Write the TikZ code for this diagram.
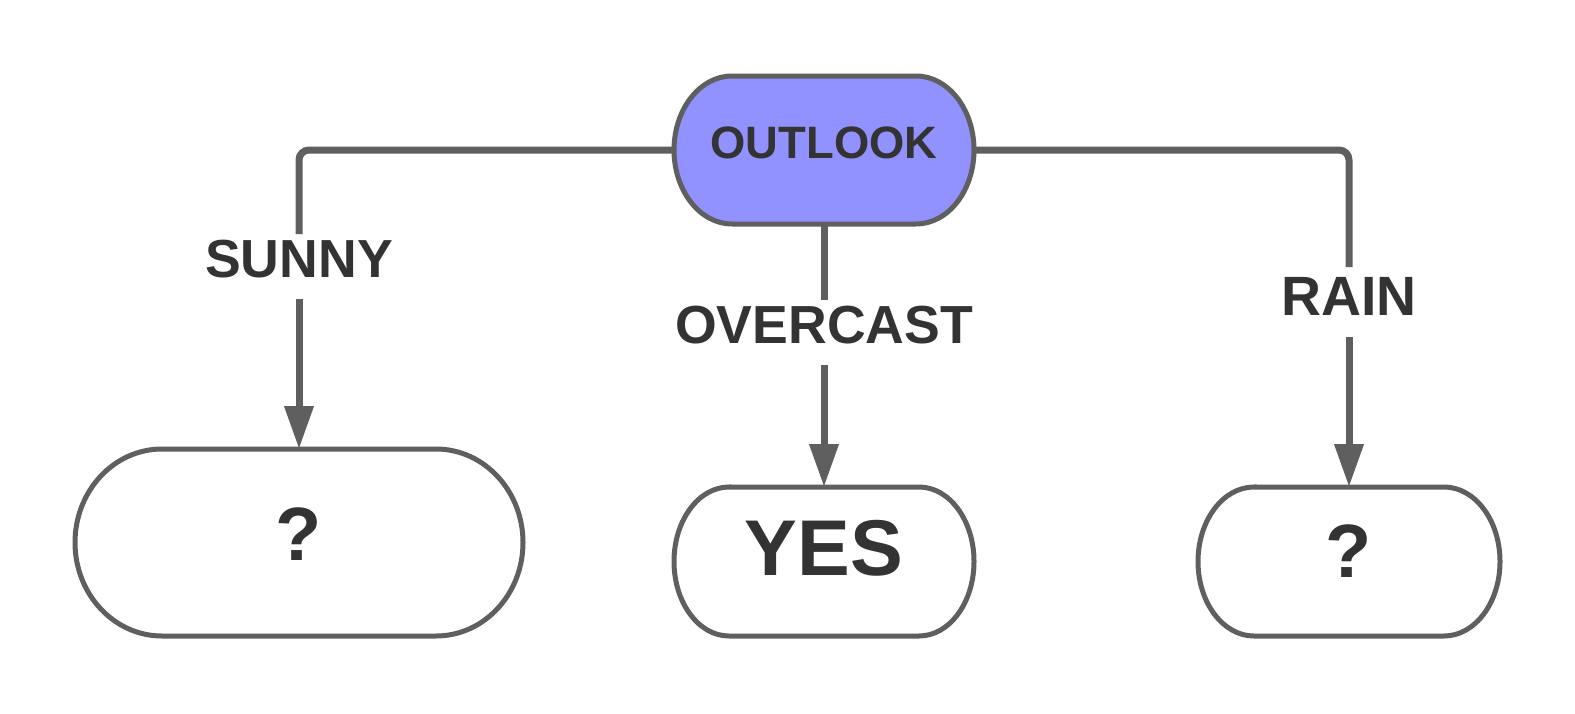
\documentclass[tikz,border=0pt]{standalone}
\usepackage{fontspec}
\setmainfont{Liberation Sans}
\usepackage{tikz}
\usepackage{xcolor}
\usetikzlibrary{arrows.meta}
\definecolor{linegray}{HTML}{5F5F5F}
\definecolor{textgray}{HTML}{333333}
\definecolor{outlookblue}{HTML}{9191FF}
\pgfdeclarelayer{background}
\pgfsetlayers{background,main}
\tikzstyle{pill} = [line width=0.1cm, draw=linegray]
\tikzstyle{box} = [inner sep=0pt, outer sep=0pt, text=textgray]
\tikzstyle{conn} = [line width=0.14cm, draw=linegray]
\tikzstyle{arrow} = [conn, -{Triangle[length=0.86cm,width=0.56cm]}]
\tikzstyle{elabel} = [inner sep=0pt, outer sep=0pt, text=textgray, anchor=base, text height=0.86cm, text depth=0.44cm, font=\fontsize{30.5pt}{36pt}\selectfont\bfseries]
% pill outline round a node: node, x radius, y radius, fill
\newcommand{\pill}[4]{%
    \begin{pgfonlayer}{background}
        \draw[pill, fill=#4] ([xshift=#2]#1.north west) -- ([xshift=-#2]#1.north east)
            arc[start angle=90, end angle=-90, x radius=#2, y radius=#3]
            -- ([xshift=#2]#1.south west)
            arc[start angle=270, end angle=90, x radius=#2, y radius=#3] -- cycle;
    \end{pgfonlayer}}

\begin{document}
\begin{tikzpicture}
        \useasboundingbox (0,0) rectangle (31.5,-14.26);
        \begin{pgfonlayer}{background}
            \fill[white] (0,0) rectangle (31.5,-14.26);
        \end{pgfonlayer}

        \node[box, minimum width=6cm, minimum height=2.96cm, text height=0.64cm, text depth=0.32cm, font=\fontsize{25.8pt}{30pt}\selectfont\bfseries] (outlook) at (16.48,-3.0) {OUTLOOK};
            \pill{outlook}{1.16cm}{1.48cm}{outlookblue}

        \node[box, minimum width=8.96cm, minimum height=3.74cm, text height=1.1cm, text depth=0.4cm, font=\fontsize{43pt}{50pt}\selectfont\bfseries] (sunnybox) at (5.98,-10.85) {?};
            \pill{sunnybox}{1.74cm}{1.87cm}{white}

        \node[box, minimum width=6cm, minimum height=2.98cm, text height=1.11cm, text depth=0.54cm, font=\fontsize{45pt}{52pt}\selectfont\bfseries] (yes) at (16.48,-11.23) {YES};
            \pill{yes}{1.1cm}{1.49cm}{white}

        \node[box, minimum width=6.04cm, minimum height=2.98cm, text height=1.1cm, text depth=0.48cm, font=\fontsize{43pt}{50pt}\selectfont\bfseries] (rainbox) at (26.98,-11.23) {?};
            \pill{rainbox}{1.12cm}{1.49cm}{white}

        % Edge labels
        \node[elabel] (sunny) at (5.98,-5.54) {SUNNY};
        \node[elabel] (overcast) at (16.48,-6.86) {OVERCAST};
        \node[elabel, text height=0.96cm, font=\fontsize{31.5pt}{36pt}\selectfont\bfseries] (rain) at (26.98,-6.30) {RAIN};

        % Draw Arrows
        \draw[conn, rounded corners=0.2cm] (outlook.west) -| (sunny.north);
        \draw[arrow] (sunny.south) -- (sunnybox.north);
        \draw[conn] (outlook.south) -- (overcast.north);
        \draw[arrow] (overcast.south) -- (yes.north);
        \draw[conn, rounded corners=0.2cm] (outlook.east) -| (rain.north);
        \draw[arrow] (rain.south) -- (rainbox.north);

    \end{tikzpicture}
\end{document}
